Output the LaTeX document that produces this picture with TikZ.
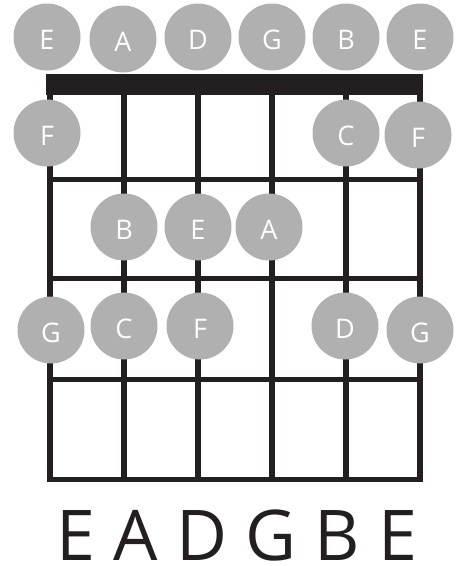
\documentclass[tikz,border=0pt]{standalone}
\usepackage{fontspec}
\setsansfont{Open Sans}
\usetikzlibrary{positioning}
\definecolor{dotgray}{RGB}{176,176,176}
\definecolor{inkblack}{RGB}{35,31,32}

\begin{document}
\begin{tikzpicture}[
    x=1pt, y=-1pt,
    font=\sffamily,
    note/.style={
        circle,
        fill=dotgray,
        minimum size=67pt,
        inner sep=0pt,
        text height=25pt,
        text depth=0pt,
        text=white,
        font=\sffamily\fontsize{27}{27}\selectfont
    },
    stringline/.style={
        draw=inkblack,
        line width=6pt
    },
    fretline/.style={
        draw=inkblack,
        line width=5pt
    },
    tuning/.style={
        anchor=base,
        inner sep=0pt,
        text=inkblack,
        font=\sffamily\fontsize{70}{70}\selectfont
    }
]
\useasboundingbox (0,0) rectangle (459,566);

% Nut
\fill[inkblack] (46,74) rectangle (423,95);

% Strings
\draw[stringline] (50,95) -- (50,482);
\draw[stringline] (124,95) -- (124,482);
\draw[stringline] (198,95) -- (198,482);
\draw[stringline] (272,95) -- (272,482);
\draw[stringline] (346,95) -- (346,482);
\draw[stringline] (420,95) -- (420,482);

% Frets
\draw[fretline] (47,179) -- (423,179);
\draw[fretline] (47,278) -- (423,278);
\draw[fretline] (47,379) -- (423,379);
\draw[fretline] (47,479) -- (423,479);

% Open strings
\node[note] (lowE0) at (47,37) {E};
\node[note] (A0) at (123,39) {A};
\node[note] (D0) at (198,37) {D};
\node[note] (G0) at (272,37) {G};
\node[note] (B0) at (346,37) {B};
\node[note] (highE0) at (420,37) {E};

% Fret 1
\node[note] (lowE1) at (47,133) {F};
\node[note] (B1) at (346,133) {C};
\node[note] (highE1) at (418,135) {F};

% Fret 2
\node[note] (A2) at (124,227) {B};
\node[note] (D2) at (198,227) {E};
\node[note] (G2) at (269,227) {A};

% Fret 3
\node[note] (lowE3) at (51,330) {G};
\node[note] (A3) at (124,326) {C};
\node[note] (D3) at (200,326) {F};
\node[note] (B3) at (345,326) {D};
\node[note] (highE3) at (420,330) {G};

% Tuning
\node[tuning] (tuning) at (237,560) {E A D G B E};

\end{tikzpicture}
\end{document}
